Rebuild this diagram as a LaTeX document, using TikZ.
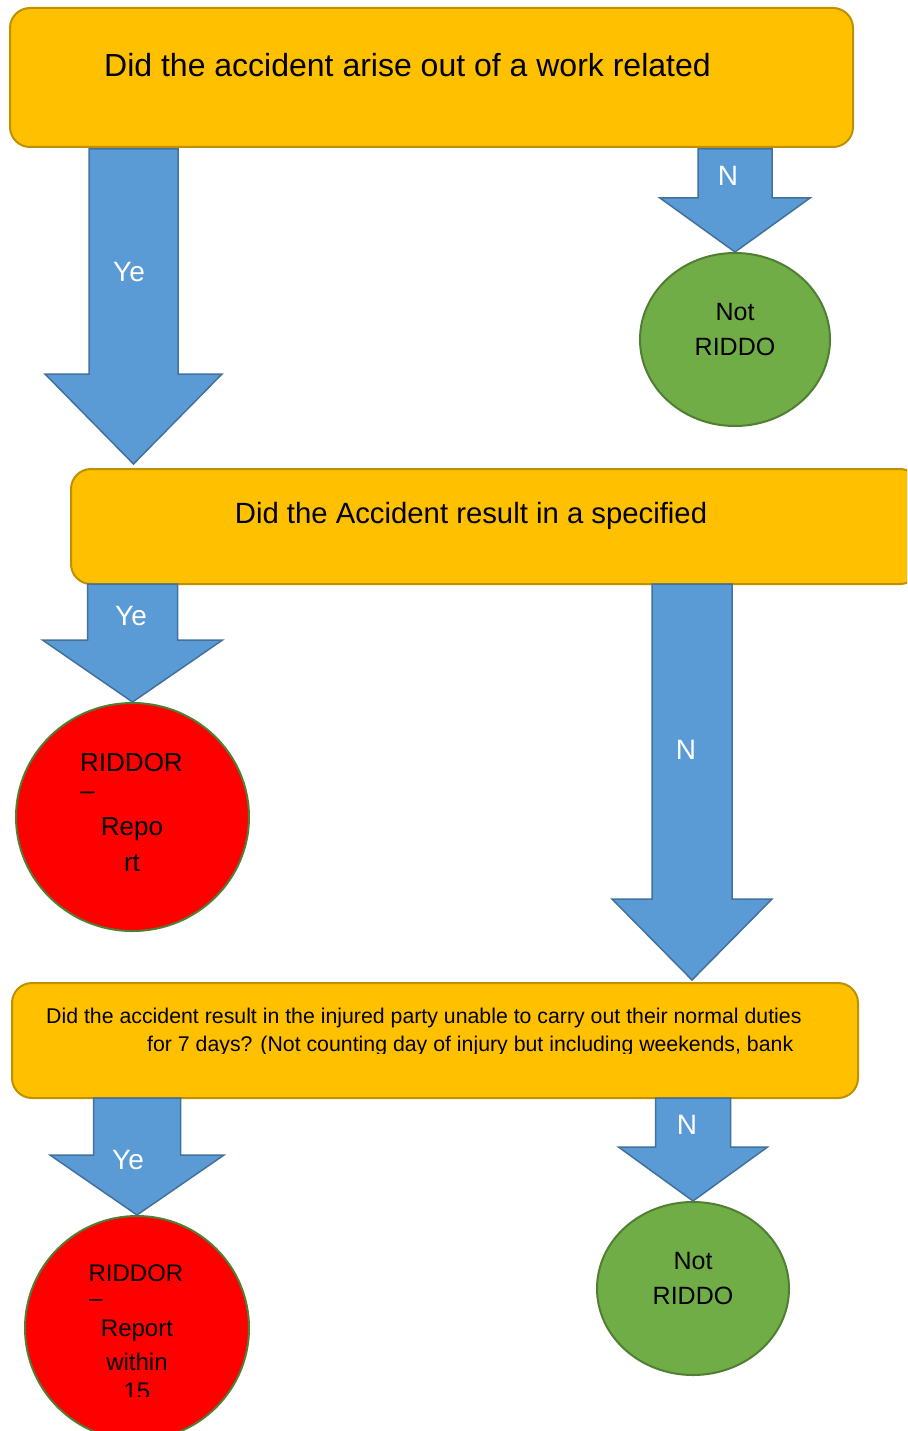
\documentclass[tikz,border=0pt]{standalone}
\usepackage{fontspec}
\setmainfont{Liberation Sans}
\usetikzlibrary{calc}
\usetikzlibrary{shapes.geometric}

\definecolor{boxfill}{HTML}{FFC000}
\definecolor{boxline}{HTML}{BF9000}
\definecolor{arrfill}{HTML}{5B9BD5}
\definecolor{arrline}{HTML}{41719C}
\definecolor{okfill}{HTML}{70AD47}
\definecolor{okline}{HTML}{507E32}
\definecolor{repfill}{HTML}{FF0000}

\newcommand{\fs}[1]{\fontsize{#1}{#1}\selectfont}
% block arrow: top, tip, shaft half width, head half width, head length
\newcommand{\blockdown}[5]{%
\filldraw[arrowshape] ($(#1)+(-#3,0)$) -- ($(#2)+(-#3,-#5)$) -- ($(#2)+(-#4,-#5)$) -- (#2)
  -- ($(#2)+(#4,-#5)$) -- ($(#2)+(#3,-#5)$) -- ($(#1)+(#3,0)$) -- cycle;}

\begin{document}
\begin{tikzpicture}[x=1pt,y=-1pt,
  qbox/.style={draw=boxline,fill=boxfill,line width=2pt,rounded corners=20pt,inner sep=0pt},
  endok/.style={ellipse,draw=okline,fill=okfill,line width=2pt,inner sep=0pt},
  endrep/.style={ellipse,draw=okline,fill=repfill,line width=2pt,inner sep=0pt},
  arrowshape/.style={draw=arrline,fill=arrfill,line width=1.5pt,line join=miter},
  lbl/.style={text=white,inner sep=0pt,font=\fs{28}},
  txt/.style={inner sep=0pt}]

\useasboundingbox (0,0) rectangle (907,1431);
\clip (0,0) rectangle (907,1431);

% questions
\node[qbox,minimum width=843,minimum height=139] (q1) at (431.5,77.5) {};
\node[qbox,minimum width=849,minimum height=115] (q2) at (495.5,526.5) {};
\node[qbox,minimum width=846,minimum height=115] (q3) at (435,1040.5) {};

% outcomes
\node[endok,minimum width=190,minimum height=173] (n1) at (735,339.5) {};
\node[endrep,minimum width=233,minimum height=228] (r1) at (132.5,817) {};
\node[endrep,minimum width=224,minimum height=224] (r2) at (137,1328) {};
\node[endok,minimum width=192,minimum height=173] (n2) at (693,1288.5) {};

% arrows
\coordinate (a1s) at (133.5,149);
\coordinate (a1e) at (133.5,464);
\coordinate (a2s) at (n1.north |- 0,149);
\coordinate (a3s) at (r1.north |- 0,584);
\coordinate (a4s) at (692,584);
\coordinate (a4e) at (692,980);
\coordinate (a5s) at (r2.north |- 0,1098);
\coordinate (a6s) at (n2.north |- 0,1098);
\blockdown{a1s}{a1e}{44.5}{88.5}{90}
\blockdown{a2s}{n1.north}{37}{75}{54}
\blockdown{a3s}{r1.north}{45}{90}{62}
\blockdown{a4s}{a4e}{40}{80}{81}
\blockdown{a5s}{r2.north}{43.5}{87}{60}
\blockdown{a6s}{n2.north}{37.5}{74.5}{54}

\node[lbl] (y1) at (129,272) {Ye};
\node[lbl] (no1) at (728,176) {N};
\node[lbl] (y2) at (131,616) {Ye};
\node[lbl] (no2) at (686,750) {N};
\node[lbl] (y3) at (128,1160) {Ye};
\node[lbl] (no3) at (687,1125) {N};

% texts
\node[txt,anchor=west,font=\fs{32}] (q1t) at (104,65) {Did the accident arise out of a work related};
\node[txt,font=\fs{29.3}] (q2t) at (471,516) {Did the Accident result in a specified};
\node[txt,anchor=west,font=\fs{21.3}] (q3t) at (46,1018) {Did the accident result in the injured party unable to carry out their normal duties};
\begin{scope}
\clip (0,0) rectangle (907,1053);
\node[txt,anchor=west,font=\fs{21.3}] (q3u) at (147,1046) {for 7 days? (Not counting day of injury but including weekends, bank};
\end{scope}

\node[txt,font=\fs{25}] (n1a) at (735,312) {Not};
\node[txt,font=\fs{25}] (n1b) at (735,347) {RIDDO};
\node[txt,font=\fs{25}] (n2a) at (693,1261) {Not};
\node[txt,font=\fs{25}] (n2b) at (693,1296) {RIDDO};

\node[txt,font=\fs{26}] (r1a) at (131.5,763) {RIDDOR};
\node[txt,anchor=west,font=\fs{26}] (r1b) at (80,796) {--};
\node[txt,font=\fs{26}] (r1c) at (132,829) {Repo};
\begin{scope}
\clip (0,0) rectangle (907,870);
\node[txt,font=\fs{26}] (r1d) at (132,863) {rt};
\end{scope}

\node[txt,font=\fs{24}] (r2a) at (136,1273) {RIDDOR};
\node[txt,anchor=west,font=\fs{24}] (r2b) at (89,1303) {--};
\node[txt,font=\fs{24}] (r2c) at (137,1331) {Report};
\node[txt,font=\fs{24}] (r2d) at (137,1362) {within};
\begin{scope}
\clip (0,0) rectangle (907,1396);
\node[txt,font=\fs{24}] (r2e) at (137,1391) {15};
\end{scope}
\end{tikzpicture}
\end{document}
